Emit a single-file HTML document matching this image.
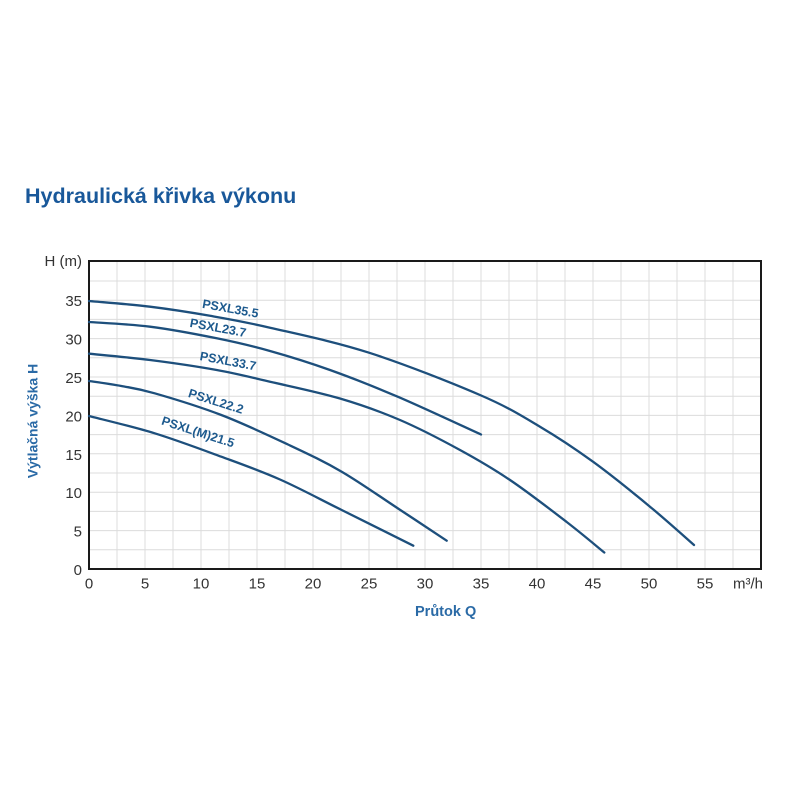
<!DOCTYPE html>
<html>
<head>
<meta charset="utf-8">
<style>
html,body{margin:0;padding:0;background:#fff;}
svg{display:block;}
</style>
</head>
<body>
<svg width="800" height="800" viewBox="0 0 800 800" xmlns="http://www.w3.org/2000/svg">
<rect x="0" y="0" width="800" height="800" fill="#ffffff"/>
<text x="25" y="203" font-family="Liberation Sans, sans-serif" font-weight="bold" font-size="21.5" fill="#19589a">Hydraulická křivka výkonu</text>

<!-- grid -->
<g stroke="#dcdcdc" stroke-width="1" fill="none">
<path d="M117 261V569M145 261V569M173 261V569M201 261V569M229 261V569M257 261V569M285 261V569M313 261V569M341 261V569M369 261V569M397 261V569M425 261V569M453 261V569M481 261V569M509 261V569M537 261V569M565 261V569M593 261V569M621 261V569M649 261V569M677 261V569M705 261V569M733 261V569"/>
<path d="M89 549.8H761M89 530.6H761M89 511.4H761M89 492.2H761M89 473H761M89 453.8H761M89 434.6H761M89 415.4H761M89 396.2H761M89 377H761M89 357.8H761M89 338.6H761M89 319.4H761M89 300.2H761M89 281H761"/>
</g>
<rect x="89" y="261" width="672" height="308" fill="none" stroke="#1a1a1a" stroke-width="2"/>

<!-- curves -->
<g fill="none" stroke="#1d4f7c" stroke-width="2.3" stroke-linecap="round">
<path d="M89 301 C99.2 302 129.8 304.2 150 306.7 C170.2 309.2 190 312.3 210 315.8 C230 319.3 243.5 321.55 270 327.7 C296.5 333.85 334 341.5 369 352.7 C404 363.9 451.5 382.7 480 395 C508.5 407.3 521.2 415.6 540 426.7 C558.8 437.8 574.7 448.4 593 461.7 C611.3 475 633.2 492.8 650 506.7 C666.8 520.6 686.7 538.6 694 545"/>
<path d="M89 322 C99.2 322.8 128.7 324 150 326.7 C171.3 329.4 196.7 334.25 216.7 338.3 C236.7 342.35 251.1 345.7 270 351 C288.9 356.3 308.7 362.4 330 370 C351.3 377.6 372.5 385.95 397.7 396.7 C422.9 407.45 467.1 428.2 481 434.5"/>
<path d="M89 353.7 C99.2 354.75 128.7 357.3 150 360 C171.3 362.7 196.7 366.4 216.7 370 C236.7 373.6 249.45 376.95 270 381.7 C290.55 386.45 318.3 392.1 340 398.5 C361.7 404.9 380 411.4 400 420 C420 428.6 441.7 440 460 450 C478.3 460 492.2 468 510 480 C527.8 492 551 509.9 566.7 522 C582.4 534.1 598 547.4 604.3 552.5"/>
<path d="M89 381 C94.4 381.8 110.35 383.95 121.3 386 C132.25 388.05 138 388.5 154.7 393.3 C171.4 398.1 199.1 406.5 221.3 415 C243.5 423.5 267.9 435.05 288 444.5 C308.1 453.95 323.5 461.1 341.7 471.7 C359.9 482.3 379.8 496.5 397.3 508 C414.8 519.5 438.5 535.25 446.7 540.7"/>
<path d="M89 416 C99.95 418.9 132.65 426.5 154.7 433.3 C176.75 440.1 200.4 449 221.3 456.7 C242.2 464.4 259.9 470.6 280 479.5 C300.1 488.4 319.5 499 341.7 510 C363.9 521 401.4 539.75 413.3 545.7"/>
</g>

<!-- curve labels -->
<g font-family="Liberation Sans, sans-serif" font-weight="bold" font-size="12.5" fill="#1d5a8e">
<text transform="translate(201.7 307.7) rotate(10.2)">PSXL35.5</text>
<text transform="translate(189.3 326.7) rotate(10.5)">PSXL23.7</text>
<text transform="translate(199.3 360) rotate(10.5)">PSXL33.7</text>
<text transform="translate(187.5 396.7) rotate(17.5)">PSXL22.2</text>
<text transform="translate(160.7 424.3) rotate(17.9)">PSXL(M)21.5</text>
</g>

<!-- y tick labels -->
<g font-family="Liberation Sans, sans-serif" font-size="15" fill="#333" text-anchor="end">
<text x="82" y="266">H (m)</text>
<text x="82" y="306.2">35</text>
<text x="82" y="344.6">30</text>
<text x="82" y="383">25</text>
<text x="82" y="421.4">20</text>
<text x="82" y="459.8">15</text>
<text x="82" y="498.2">10</text>
<text x="82" y="536.6">5</text>
<text x="82" y="575">0</text>
</g>

<!-- x tick labels -->
<g font-family="Liberation Sans, sans-serif" font-size="15" fill="#333" text-anchor="middle">
<text x="89" y="588.5">0</text>
<text x="145" y="588.5">5</text>
<text x="201" y="588.5">10</text>
<text x="257" y="588.5">15</text>
<text x="313" y="588.5">20</text>
<text x="369" y="588.5">25</text>
<text x="425" y="588.5">30</text>
<text x="481" y="588.5">35</text>
<text x="537" y="588.5">40</text>
<text x="593" y="588.5">45</text>
<text x="649" y="588.5">50</text>
<text x="705" y="588.5">55</text>
</g>
<text x="733" y="588.5" font-family="Liberation Sans, sans-serif" font-size="15" fill="#333">m³/h</text>

<!-- axis titles -->
<text x="415" y="616" font-family="Liberation Sans, sans-serif" font-weight="bold" font-size="14.5" fill="#2a6aa6">Průtok Q</text>
<text transform="translate(37.5 421) rotate(-90)" text-anchor="middle" font-family="Liberation Sans, sans-serif" font-weight="bold" font-size="14" fill="#2a6aa6">Výtlačná výška H</text>
</svg>
</body>
</html>
